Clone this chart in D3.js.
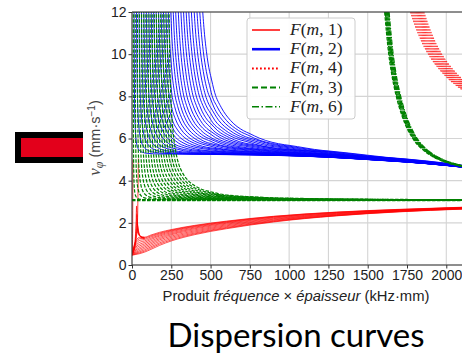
<!DOCTYPE html>
<html><head><meta charset="utf-8">
<script src="https://cdn.jsdelivr.net/npm/d3@7"></script>
<style>body{margin:0;background:#fff} svg{display:block}</style>
</head><body>
<script>
// ---------- data ----------
const xTicks = [0, 250, 500, 750, 1000, 1250, 1500, 1750, 2000];
const yTicks = [0, 2, 4, 6, 8, 10, 12];
const legendModes = ["1", "2", "4", "3", "6"];

// F(m,1): red fan, velocities at a common frequency grid
const redX = [0, 10, 25, 50, 80, 120, 175, 250, 400, 600, 900, 1300, 1700, 2100];
const redFan = [
  [0.50,0.85,1.15,1.32,1.32,1.42,1.55,1.68,1.88,2.08,2.31,2.51,2.64,2.74],
  [0.50,0.80,1.08,1.25,1.27,1.38,1.51,1.65,1.86,2.06,2.30,2.50,2.63,2.73],
  [0.50,0.75,1.00,1.17,1.21,1.33,1.47,1.62,1.83,2.04,2.28,2.49,2.62,2.73],
  [0.49,0.70,0.92,1.08,1.14,1.27,1.42,1.58,1.80,2.01,2.26,2.47,2.61,2.72],
  [0.49,0.66,0.85,0.99,1.07,1.21,1.37,1.53,1.76,1.98,2.23,2.45,2.60,2.71],
  [0.49,0.62,0.78,0.91,1.00,1.14,1.31,1.48,1.72,1.94,2.20,2.43,2.59,2.70],
  [0.48,0.58,0.71,0.83,0.93,1.07,1.25,1.43,1.67,1.90,2.17,2.41,2.57,2.69],
  [0.48,0.55,0.65,0.76,0.86,1.00,1.19,1.37,1.62,1.86,2.14,2.39,2.56,2.68],
  [0.48,0.53,0.60,0.69,0.79,0.93,1.12,1.31,1.57,1.82,2.11,2.37,2.55,2.67],
  [0.47,0.51,0.56,0.63,0.72,0.86,1.05,1.25,1.52,1.78,2.08,2.35,2.54,2.66],
  [0.47,0.49,0.53,0.58,0.66,0.80,0.99,1.19,1.48,1.75,2.06,2.34,2.53,2.66],
  [0.47,0.48,0.50,0.54,0.61,0.74,0.93,1.14,1.44,1.72,2.04,2.33,2.52,2.65]
];
// F(m,1): resonance spikes at low frequency
const redSpikes = [
  [[3,0.5],[4,1.5],[5,3.0],[6,5.0]],
  [[33,1.5],[36.5,2.6],[39,4.0],[40.5,5.05]],
  [[0,0.5],[10,0.7],[20,1.2],[26,2.0],[29,2.8],[33,2.2],[42,1.6],[55,1.36],[80,1.31]],
  [[0,0.5],[12,0.75],[22,1.2],[27,1.8],[31,2.4],[35,1.9],[45,1.45],[60,1.32],[80,1.29]],
  [[0,0.5],[14,0.8],[24,1.2],[29,1.6],[33,2.0],[38,1.65],[50,1.38],[80,1.27]],
  [[0,0.5],[16,0.85],[26,1.25],[31,1.5],[35,1.75],[40,1.5],[55,1.33],[80,1.25]]
];

// shared dispersion profile near a cut-off: f/fc -> v / plateau velocity
const profileRatio  = [1.03,1.05,1.08,1.10,1.13,1.17,1.22,1.30,1.40,1.55,1.75,2.0,2.4,3.0,4.0,5.5,8,15,60,400];
const profileFactor = [4.17,3.28,2.65,2.40,2.15,1.93,1.75,1.56,1.43,1.31,1.22,1.155,1.10,1.061,1.033,1.017,1.008,1.002,1.0,1.0];

// F(m,2): blue family, cut-off frequencies and plateau velocity
const blueCutoffs = [12,26,40,54,68,82,96,110,124,138,152,166,180,194,208,222,236,250,265,280,295,310,325,340,356,372,388,405];
const bluePlateauX = [0,250,500,750,1000,1250,1500,1750,2000,2100];
const bluePlateauV = [5.26,5.25,5.24,5.22,5.18,5.11,5.00,4.88,4.72,4.64];

// F(m,3): green family at low frequency, cut-offs and plateau
const greenCutoffs = [8,20,33,46,59,72,85,98,111,124,137,150,163,176,189,202,215,228];
const greenPlateauX = [0, 2100];
const greenPlateauV = [3.08, 3.08];

// F(m,4): red dotted band at high frequency (first curve + offsets)
const redBandX = [1773,1800,1850,1900,1950,2000,2050,2100,2200];
const redBandV = [12,11.4,10.5,9.84,9.34,8.93,8.6,8.32,7.9];
const redBandShift = [0,7,14,21,28,35,42,49,56,63,70,77,84];

// F(m,3)/F(m,6): green band at high frequency (first curve + offsets)
const greenBandX = [1608,1620,1634,1654,1682,1722,1787,1862,1952,2040,2100,2200];
const greenBandV = [12,11,10,9,8,7,6,5.4,5.0,4.78,4.68,4.55];
const greenBandShift3 = [0,8,16,24];
const greenBandShift6 = [4,12,20,28];

// ---------- drawing ----------
const W = 462, H = 354;
const svg = d3.select("body").append("svg").attr("width", W).attr("height", H);
const x = d3.scaleLinear().domain([0, 2100]).range([132, 462]);
const y = d3.scaleLinear().domain([0, 12]).range([265, 12]);
const line = d3.line().x(d => x(d[0])).y(d => y(d[1])).curve(d3.curveMonotoneX);
const factorAt = d3.scaleLinear().domain(profileRatio).range(profileFactor).clamp(true);
const bluePlateau = d3.scaleLinear().domain(bluePlateauX).range(bluePlateauV).clamp(true);
const greenPlateau = d3.scaleLinear().domain(greenPlateauX).range(greenPlateauV).clamp(true);

function modeCurve(fc, plateau, gridX) {
  let xs = profileRatio.map(r => fc * r).concat(gridX).filter(v => v >= fc * profileRatio[0] && v <= 2100);
  xs.push(2100);
  xs = Array.from(new Set(xs)).sort((a, b) => a - b);
  return xs.map(xv => [xv, plateau(xv) * factorAt(xv / fc)]);
}

// red decoration at left
svg.append("rect").attr("x", 15).attr("y", 132).attr("width", 68).attr("height", 31).attr("fill", "#000");
svg.append("rect").attr("x", 21).attr("y", 138).attr("width", 62).attr("height", 19).attr("fill", "#e3001b");

// grid
const grid = svg.append("g").attr("stroke", "#d4d4d4").attr("stroke-width", 1.1);
xTicks.forEach(t => grid.append("line").attr("x1", x(t)).attr("x2", x(t)).attr("y1", y(12)).attr("y2", y(0)));
yTicks.forEach(t => grid.append("line").attr("x1", x(0)).attr("x2", 462).attr("y1", y(t)).attr("y2", y(t)));

svg.append("clipPath").attr("id", "clip").append("rect")
  .attr("x", 132).attr("y", 12).attr("width", 330).attr("height", 253);
const plot = svg.append("g").attr("clip-path", "url(#clip)").attr("fill", "none");

// F(m,1)
const gRed = plot.append("g").attr("stroke", "#ff0000").attr("stroke-opacity", 0.85);
redFan.forEach(vals => gRed.append("path").attr("d", line(redX.map((xv, i) => [xv, vals[i]]))).attr("stroke-width", 0.8));
redSpikes.forEach(pts => gRed.append("path").attr("d", line(pts)).attr("stroke-width", 0.9));

// F(m,2)
const gBlue = plot.append("g").attr("stroke", "#0000ff").attr("stroke-width", 0.9);
blueCutoffs.forEach(fc => gBlue.append("path").attr("d", line(modeCurve(fc, bluePlateau, bluePlateauX))));

// F(m,4)
const gRed4 = plot.append("g").attr("stroke", "#ff0000").attr("stroke-width", 1.1).attr("stroke-opacity", 0.8).attr("stroke-dasharray", "1.5,1.5");
redBandShift.forEach(s => gRed4.append("path").attr("d", line(redBandX.map((xv, i) => [xv + s, redBandV[i]]))));

// F(m,3)
const gGreen = plot.append("g").attr("stroke", "#008000").attr("stroke-width", 1.2).attr("stroke-dasharray", "3.5,1.5");
greenCutoffs.forEach(fc => gGreen.append("path").attr("d", line(modeCurve(fc, greenPlateau, bluePlateauX))));
gGreen.append("path").attr("d", line(greenPlateauX.map((xv, i) => [xv, greenPlateauV[i]]))).attr("stroke-width", 2.2);
greenBandShift3.forEach(s => gGreen.append("path").attr("d", line(greenBandX.map((xv, i) => [xv + s, greenBandV[i]]))).attr("stroke-width", 1.3));

// F(m,6)
const gGreen6 = plot.append("g").attr("stroke", "#008000").attr("stroke-width", 1.2).attr("stroke-dasharray", "5,1.5,1.2,1.5");
greenBandShift6.forEach(s => gGreen6.append("path").attr("d", line(greenBandX.map((xv, i) => [xv + s, greenBandV[i]]))));

// spines
const spine = svg.append("g").attr("stroke", "#333").attr("stroke-width", 1);
spine.append("line").attr("x1", 132).attr("x2", 132).attr("y1", 12).attr("y2", 265);
spine.append("line").attr("x1", 132).attr("x2", 462).attr("y1", 265).attr("y2", 265);
spine.append("line").attr("x1", 132).attr("x2", 462).attr("y1", 12).attr("y2", 12);

// axes
const fontSans = "'Liberation Sans', Arial, sans-serif";
const xAxis = svg.append("g").attr("transform", "translate(0,265)")
  .call(d3.axisBottom(x).tickValues(xTicks).tickSize(3.5).tickPadding(2).tickFormat(d3.format("d")));
const yAxis = svg.append("g").attr("transform", "translate(132,0)")
  .call(d3.axisLeft(y).tickValues(yTicks).tickSize(3.5).tickPadding(2).tickFormat(d3.format("d")));
[xAxis, yAxis].forEach(a => {
  a.select(".domain").remove();
  a.selectAll("line").attr("stroke", "#333");
  a.selectAll("text").attr("fill", "#222").style("font-family", fontSans).style("font-size", "14px");
});

// x label
const xl = svg.append("text").attr("x", 296).attr("y", 301).attr("text-anchor", "middle")
  .style("font-family", fontSans).style("font-size", "14.8px").attr("fill", "#222");
xl.append("tspan").text("Produit ");
xl.append("tspan").attr("font-style", "italic").text("fréquence");
xl.append("tspan").text(" × ");
xl.append("tspan").attr("font-style", "italic").text("épaisseur");
xl.append("tspan").text(" (kHz·mm)");

// y label
const yl = svg.append("text").attr("transform", "translate(100,138) rotate(-90)").attr("text-anchor", "middle")
  .style("font-family", fontSans).style("font-size", "14.5px").attr("fill", "#444");
yl.append("tspan").style("font-family", "'Liberation Serif', serif").attr("font-style", "italic").style("font-size", "17px").text("v");
yl.append("tspan").style("font-family", "'Liberation Serif', serif").attr("font-style", "italic").style("font-size", "12px").attr("dy", 3).text("φ");
yl.append("tspan").attr("dy", -3).text(" (mm·s");
yl.append("tspan").style("font-size", "10px").attr("dy", -5).text("−1");
yl.append("tspan").attr("dy", 5).text(")");

// legend
const leg = svg.append("g");
leg.append("rect").attr("x", 247).attr("y", 18).attr("width", 108).attr("height", 101).attr("rx", 3)
  .attr("fill", "#fff").attr("fill-opacity", 0.92).attr("stroke", "#cccccc");
const legStyles = [
  {c: "#ff0000", w: 1.5, d: null},
  {c: "#0000ff", w: 2.6, d: null},
  {c: "#ff0000", w: 2, d: "1.8,2.2"},
  {c: "#008000", w: 2, d: "6,3"},
  {c: "#008000", w: 1.6, d: "7,2.5,1.5,2.5"}
];
legendModes.forEach((m, i) => {
  const cy = 30 + i * 19.2;
  const st = legStyles[i];
  leg.append("line").attr("x1", 252).attr("x2", 280).attr("y1", cy).attr("y2", cy)
    .attr("stroke", st.c).attr("stroke-width", st.w).attr("stroke-dasharray", st.d);
  const t = leg.append("text").attr("x", 290).attr("y", cy + 5)
    .style("font-family", "'Liberation Serif', serif").style("font-size", "17.5px").attr("fill", "#222");
  t.append("tspan").attr("font-style", "italic").text("F");
  t.append("tspan").text("(");
  t.append("tspan").attr("font-style", "italic").text("m");
  t.append("tspan").text(", " + m + ")");
});

// title
svg.append("text").attr("x", 296).attr("y", 347).attr("text-anchor", "middle")
  .style("font-family", "Lato, 'Open Sans', sans-serif").style("font-size", "33px").attr("fill", "#000")
  .text("Dispersion curves");
</script>
</body></html>
